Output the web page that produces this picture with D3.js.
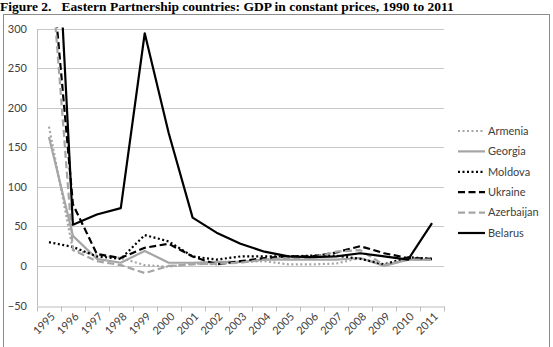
<!DOCTYPE html>
<html><head><meta charset="utf-8">
<script src="https://cdn.jsdelivr.net/npm/d3@7"></script>
<style>
body{margin:0;background:#fff;}
svg{display:block;}
</style></head>
<body>
<svg id="c" width="553" height="347"></svg>
<script>
const years = ["1995","1996","1997","1998","1999","2000","2001","2002","2003","2004","2005","2006","2007","2008","2009","2010","2011"];
const yTicks = [-50, 0, 50, 100, 150, 200, 250, 300];
const armenia    = [176, 20, 14, 10, 1, -1, 3, 2, 5, 6, 2, 2, 3, 10, 1, 8, 8];
const georgia    = [163, 38, 9, 4, 19, 4, 4, 5, 5, 8, 8, 8, 8, 10, 0, 8, 8];
const moldova    = [30, 24, 12, 9, 39, 31, 12, 8, 12, 12, 12, 13, 13, 9, 2, 11, 9];
const ukraine    = [415, 78, 15, 10, 23, 28, 12, 2, 6, 10, 12, 12, 17, 25, 16, 10, 9];
const azerbaijan = [410, 20, 6, 1, -9, 0, 2, 3, 4, 8, 10, 10, 18, 20, 1, 8, 8];
const belarus    = [640, 52, 65, 73, 294, 168, 61, 42, 28, 18, 12, 11, 12, 16, 12, 8, 54];

const seriesNames = ["Armenia","Georgia","Moldova","Ukraine","Azerbaijan","Belarus"];
const seriesData = [armenia, georgia, moldova, ukraine, azerbaijan, belarus];
const gray = "#a5a5a5";
const styles = [
  {color: gray,   dash: "2,2.5", w: 2.2},
  {color: gray,   dash: null,    w: 2.2},
  {color: "#000", dash: "2,2.5", w: 2.2},
  {color: "#000", dash: "7,3.5", w: 2.2},
  {color: gray,   dash: "7,3.5", w: 2.2},
  {color: "#000", dash: null,    w: 2.2}
];

const svg = d3.select("#c");
const L = 37, R = 444, T = 28.5, B = 305.5;
const x = d3.scaleBand().domain(years).range([L, R]).padding(0);
const y = d3.scaleLinear().domain([-50, 300]).range([B, T]);
const fontF = "Lato, 'Open Sans', sans-serif";

svg.append("rect").attr("x", 3.5).attr("y", 14.5).attr("width", 546).attr("height", 340)
  .attr("fill", "none").attr("stroke", "#8c8c8c").attr("stroke-width", 1);

svg.append("text").attr("x", 0).attr("y", 10.5)
  .attr("font-family", "'Liberation Serif', 'Times New Roman', serif")
  .attr("font-weight", "bold").attr("font-size", 13.5).attr("fill", "#000")
  .text("Figure 2.\u00a0\u00a0\u00a0Eastern Partnership countries: GDP in constant prices, 1990 to 2011");

svg.append("g").selectAll("line").data(yTicks.filter(d => d !== -50)).join("line")
  .attr("x1", L).attr("x2", R)
  .attr("y1", d => Math.round(y(d)) + 0.5).attr("y2", d => Math.round(y(d)) + 0.5)
  .attr("stroke", "#c8c8c8").attr("stroke-width", 1);

const yAxis = d3.axisLeft(y).tickValues(yTicks).tickSize(0).tickPadding(10);
const gy = svg.append("g").attr("transform", `translate(${L},0)`).call(yAxis);
gy.select(".domain").attr("stroke", "#bdbdbd");
gy.selectAll("text").attr("font-family", fontF).attr("font-size", 11).attr("fill", "#404040");

const xAxis = d3.axisBottom(x).tickSize(0).tickPadding(0);
const gx = svg.append("g").attr("transform", `translate(0,${Math.round(y(-50)) + 0.5})`).call(xAxis);
gx.select(".domain").attr("stroke", "#bdbdbd");
gx.selectAll(".tick text")
  .attr("font-family", fontF).attr("font-size", 11).attr("fill", "#404040")
  .attr("text-anchor", "end")
  .attr("transform", "translate(4,8) rotate(-45)")
  .attr("dy", "0.35em");
const bounds = years.map(d => x(d)).concat([R]);
gx.append("g").selectAll("line").data(bounds).join("line")
  .attr("x1", d => Math.round(d) + 0.5).attr("x2", d => Math.round(d) + 0.5)
  .attr("y1", 0).attr("y2", 5).attr("stroke", "#bdbdbd");

svg.append("clipPath").attr("id", "plotclip").append("rect")
  .attr("x", L).attr("y", T - 1).attr("width", R - L + 2).attr("height", B - T + 2);

const line = d3.line().x((d, i) => x(years[i]) + x.bandwidth() / 2).y(d => y(d));
const gl = svg.append("g").attr("clip-path", "url(#plotclip)");
seriesData.forEach((s, k) => {
  gl.append("path").datum(s).attr("d", line).attr("fill", "none")
    .attr("stroke", styles[k].color).attr("stroke-width", styles[k].w)
    .attr("stroke-dasharray", styles[k].dash)
    .attr("stroke-linejoin", "round");
});

const lg = svg.append("g");
seriesNames.forEach((n, k) => {
  const yy = 131 + k * 20.4;
  lg.append("line").attr("x1", 458).attr("x2", 485).attr("y1", yy).attr("y2", yy)
    .attr("stroke", styles[k].color).attr("stroke-width", styles[k].w)
    .attr("stroke-dasharray", styles[k].dash);
  lg.append("text").attr("x", 488).attr("y", yy).attr("dy", "0.35em")
    .attr("font-family", fontF).attr("font-size", 11).attr("fill", "#404040").text(n);
});
</script>
</body></html>
